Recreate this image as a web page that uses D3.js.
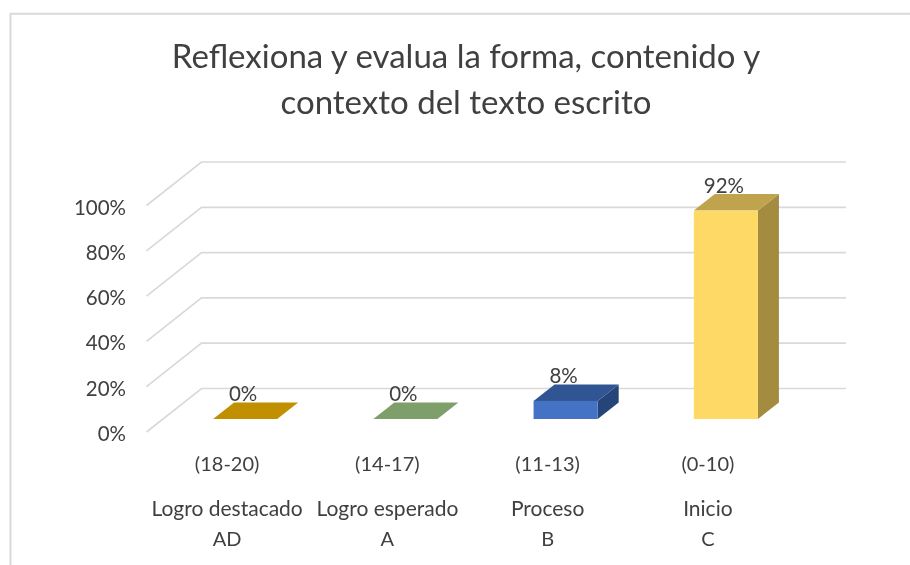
<!DOCTYPE html>
<html>
<head>
<meta charset="utf-8">
<script src="https://cdn.jsdelivr.net/npm/d3@7"></script>
<style>
html,body{margin:0;padding:0;background:#fff;}
svg{display:block;filter:blur(0.35px);}
text{font-family:Lato,"Noto Sans",sans-serif;}
</style>
</head>
<body>
<svg id="c" width="910" height="565"></svg>
<script>
const titleLines = ["Reflexiona y evalua la forma, contenido y", "contexto del texto escrito"];
const ranges = ["(18-20)", "(14-17)", "(11-13)", "(0-10)"];
const levels = ["Logro destacado", "Logro esperado", "Proceso", "Inicio"];
const codes = ["AD", "A", "B", "C"];
const values = [0, 0, 0.08, 0.92];
const valueLabels = ["0%", "0%", "8%", "92%"];
const frontColors = ["#c09000", "#7f9f6a", "#4472c4", "#ffd966"];
const topColors = ["#c09000", "#7f9f6a", "#315592", "#bfa34d"];
const sideColors = ["#c09000", "#7f9f6a", "#25447a", "#a38b40"];
const yTicks = [0, 0.2, 0.4, 0.6, 0.8, 1];

const svg = d3.select("#c");
const ink = "#404040", grid = "#d9d9d9";

// chart frame
svg.append("path").attr("d", "M10.5,565V13.7H910")
  .attr("fill", "none").attr("stroke", "#d9d9d9").attr("stroke-width", 2);

// title
svg.append("g").selectAll("text").data(titleLines).join("text")
  .attr("x", 466).attr("y", (d, i) => 68 + i * 46)
  .attr("text-anchor", "middle").attr("font-size", 33).attr("fill", ink).text(d => d);

// scales
const y = d3.scaleLinear().domain([0, 1]).range([432, 205.5]);
const x = d3.scaleBand().domain(levels).range([165, 806]);
const wallDx = 55, wallDy = -43.5, rightEnd = 846;
const barW = x.bandwidth() * 0.4, bDx = 21, bDy = -16.5, inset = 13;

// gridlines on wall and floor
const g = svg.append("g").attr("fill", "none").attr("stroke", grid).attr("stroke-width", 1.7);
g.selectAll("path").data(yTicks).join("path")
  .attr("d", t => `M146.5,${y(t)}L${146.5 + wallDx},${y(t) + wallDy}H${rightEnd}`);

// y axis labels
const axis = d3.axisLeft(y).tickValues(yTicks).tickSize(0).tickFormat(d3.format(".0%"));
const ax = svg.append("g").attr("transform", "translate(129,2)").call(axis);
ax.select(".domain").remove();
ax.selectAll("text").attr("font-size", 20.5).attr("fill", ink)
  .style("font-family", 'Lato,"Noto Sans",sans-serif');

// bars
const bars = svg.append("g").selectAll("g").data(levels).join("g")
  .attr("transform", d => `translate(${x(d) + (x.bandwidth() - barW) / 2},0)`);
const base = y(0) - inset;
const topY = i => y(values[i]) - inset;
bars.append("path").attr("fill", (d, i) => sideColors[i])
  .attr("d", (d, i) => `M${barW},${base}L${barW + bDx},${base + bDy}V${topY(i) + bDy}L${barW},${topY(i)}Z`);
bars.append("path").attr("fill", (d, i) => topColors[i])
  .attr("d", (d, i) => `M0,${topY(i)}L${bDx},${topY(i) + bDy}H${barW + bDx}L${barW},${topY(i)}Z`);
bars.append("rect").attr("fill", (d, i) => frontColors[i])
  .attr("x", 0).attr("width", barW)
  .attr("y", (d, i) => topY(i)).attr("height", (d, i) => base - topY(i));

// value labels
svg.append("g").selectAll("text").data(levels).join("text")
  .attr("x", d => x(d) + x.bandwidth() / 2 - 2)
  .attr("y", (d, i) => topY(i) + bDy - 1.5)
  .attr("text-anchor", "middle").attr("font-size", 20.5).attr("fill", ink)
  .text((d, i) => valueLabels[i]);

// category labels (three levels)
const cat = svg.append("g").attr("text-anchor", "middle").attr("fill", ink);
const rows = [[ranges, 471, 20], [levels, 516, 21], [codes, 546, 20]];
rows.forEach(([arr, yy, size]) => {
  cat.append("g").attr("font-size", size).selectAll("text").data(arr).join("text")
    .attr("x", (d, i) => x(levels[i]) + x.bandwidth() / 2 - 18)
    .attr("y", yy).text(d => d);
});
</script>
</body>
</html>
